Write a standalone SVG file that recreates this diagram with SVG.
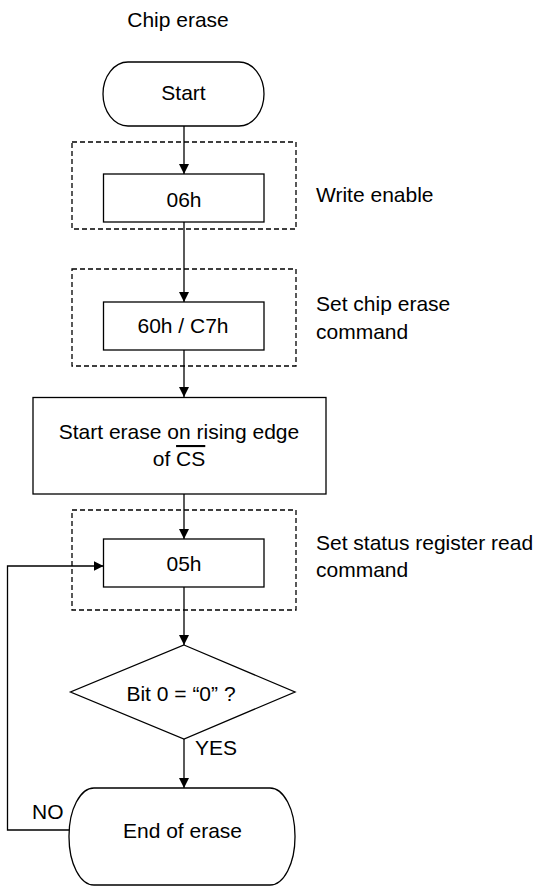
<svg xmlns="http://www.w3.org/2000/svg" width="541" height="887" viewBox="0 0 541 887">
<style>
  text { font-family: "Liberation Sans", Arial, sans-serif; font-size: 21px; fill: #000; }
  .c { text-anchor: middle; }
  .shape { fill: #fff; stroke: #000; stroke-width: 1.3; }
  .dash { fill: none; stroke: #000; stroke-width: 1.3; stroke-dasharray: 5 3; }
  .conn { fill: none; stroke: #000; stroke-width: 1.3; }
</style>
<defs>
  <marker id="arr" viewBox="0 0 10 10" refX="10" refY="5" markerWidth="10" markerHeight="10" markerUnits="userSpaceOnUse" orient="auto">
    <path d="M0,0 L10,5 L0,10 Z" fill="#000"/>
  </marker>
</defs>
<rect width="541" height="887" fill="#fff"/>
<text id="title" x="178" y="27" class="c">Chip erase</text>

<g id="group-write-enable">
  <rect class="dash" x="72" y="142" width="224" height="87"/>
  <text x="316" y="202">Write enable</text>
</g>
<g id="group-chip-erase">
  <rect class="dash" x="72" y="269" width="224" height="97"/>
  <text x="316" y="311">Set chip erase</text>
  <text x="316" y="339">command</text>
</g>
<g id="group-status">
  <rect class="dash" x="72" y="510" width="224" height="100"/>
  <text x="316" y="550">Set status register read</text>
  <text x="316" y="577">command</text>
</g>

<g id="connectors">
  <line class="conn" x1="184" y1="126" x2="184" y2="174" marker-end="url(#arr)"/>
  <line class="conn" x1="184" y1="222" x2="184" y2="302" marker-end="url(#arr)"/>
  <line class="conn" x1="184" y1="350" x2="184" y2="397" marker-end="url(#arr)"/>
  <line class="conn" x1="184" y1="494" x2="184" y2="539" marker-end="url(#arr)"/>
  <line class="conn" x1="184" y1="587" x2="184" y2="645" marker-end="url(#arr)"/>
  <line class="conn" x1="184" y1="739" x2="184" y2="788" marker-end="url(#arr)"/>
  <polyline class="conn" points="69,830 7.5,830 7.5,566 103.5,566" marker-end="url(#arr)"/>
  <text x="195" y="755">YES</text>
  <text x="32" y="819">NO</text>
</g>

<g id="start">
  <rect class="shape" x="103" y="62" width="161" height="64" rx="25" ry="32"/>
  <text x="183.5" y="100" class="c">Start</text>
</g>
<g id="cmd-06h">
  <rect class="shape" x="103.5" y="174" width="160.5" height="48"/>
  <text x="184" y="207" class="c">06h</text>
</g>
<g id="cmd-60h">
  <rect class="shape" x="103.5" y="302" width="160.5" height="48"/>
  <text x="183" y="333" class="c">60h / C7h</text>
</g>
<g id="start-erase">
  <rect class="shape" x="33" y="397.5" width="293" height="96.5"/>
  <text x="179" y="439" class="c">Start erase on rising edge</text>
  <text x="179" y="466" class="c">of <tspan style="text-decoration: overline">CS</tspan></text>
</g>
<g id="cmd-05h">
  <rect class="shape" x="103.5" y="539" width="160.5" height="48"/>
  <text x="184" y="571" class="c">05h</text>
</g>
<g id="decision">
  <polygon class="shape" points="184,645 295,692 184,739 70.5,692"/>
  <text x="181" y="701" class="c">Bit 0 = “0” ?</text>
</g>
<g id="end">
  <rect class="shape" x="69" y="788" width="226" height="97" rx="25" ry="48"/>
  <text x="182.5" y="838" class="c">End of erase</text>
</g>
</svg>
